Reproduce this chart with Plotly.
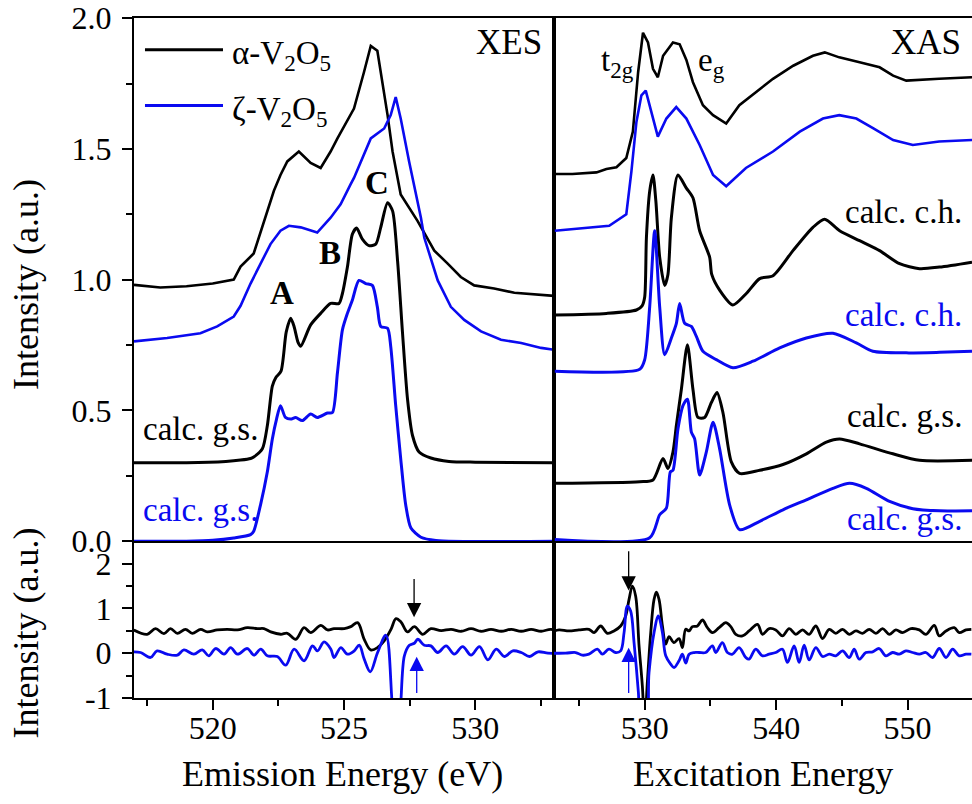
import plotly.graph_objects as go
from plotly.subplots import make_subplots

FONT = "Liberation Serif"
BLUE = "#0a0af0"
BLACK = "#000000"

# ---------------- XES (top left) ----------------
xes_alpha_E = [517.0, 518.0, 519.0, 520.0, 520.8, 521.06, 521.56, 521.95, 522.33, 522.58, 522.84,
               523.28, 523.73, 524.11, 524.49, 524.75, 525.38, 525.76, 526.02, 526.27, 526.47,
               526.66, 526.85, 527.16, 527.8, 528.18, 528.44, 528.95, 529.45, 529.96, 530.72,
               531.49, 532.25, 532.95, 533.0]
xes_alpha_I = [0.98, 0.97, 0.975, 0.985, 1.0, 1.05, 1.1, 1.225, 1.34, 1.4, 1.452,
               1.49, 1.446, 1.427, 1.49, 1.54, 1.654, 1.793, 1.894, 1.875, 1.755,
               1.629, 1.49, 1.326, 1.225, 1.16, 1.111, 1.061, 1.01, 0.978, 0.966,
               0.95, 0.943, 0.938, 0.938]

xes_zeta_E = [517.0, 518.26, 519.53, 520.17, 520.8, 521.06, 521.44, 521.82, 522.2, 522.58, 522.9,
              523.35, 523.98, 524.49, 524.87, 525.25, 525.38, 526.02, 526.53, 526.78, 526.97,
              527.16, 527.48, 527.93, 528.06, 528.57, 529.07, 529.58, 530.22, 530.98, 531.75,
              532.51, 533.0]
xes_zeta_I = [0.764, 0.777, 0.795, 0.821, 0.859, 0.9, 0.985, 1.061, 1.136, 1.187, 1.206,
              1.2, 1.18, 1.237, 1.288, 1.364, 1.389, 1.54, 1.578, 1.629, 1.698,
              1.616, 1.452, 1.237, 1.16, 0.997, 0.896, 0.846, 0.802, 0.77, 0.758,
              0.739, 0.732]

xes_gs_alpha_E = [517.0, 519.0, 520.5, 521.06, 521.44, 521.56, 521.89, 522.08, 522.27, 522.4,
                  522.6, 522.8, 522.97, 523.1, 523.25, 523.35, 523.73, 524.11, 524.49, 524.81,
                  524.94, 525.13, 525.32, 525.48, 525.7, 525.95, 526.21, 526.4, 526.66, 526.85,
                  527.04, 527.23, 527.42, 527.61, 527.86, 528.31, 529.0, 530.0, 533.0]
xes_gs_alpha_I = [0.3, 0.3, 0.305, 0.31, 0.316, 0.322, 0.353, 0.442, 0.593, 0.625,
                  0.65, 0.8, 0.852, 0.82, 0.76, 0.745, 0.827, 0.871, 0.909, 0.909,
                  0.947, 1.048, 1.174, 1.197, 1.155, 1.13, 1.136, 1.2, 1.294, 1.263,
                  1.073, 0.795, 0.543, 0.404, 0.341, 0.318, 0.305, 0.302, 0.3]

xes_gs_zeta_E = [517.0, 519.0, 520.0, 520.8, 521.44, 521.56, 521.82, 522.08, 522.27, 522.43,
                 522.58, 522.77, 522.97, 523.16, 523.41, 523.73, 523.98, 524.37, 524.56, 524.75,
                 524.94, 525.13, 525.32, 525.57, 525.83, 526.08, 526.27, 526.4, 526.66, 526.78,
                 526.97, 527.16, 527.35, 527.55, 527.93, 528.5, 533.0]
xes_gs_zeta_I = [0.0, 0.0, 0.003, 0.012, 0.025, 0.038, 0.139, 0.265, 0.391, 0.467,
                 0.518, 0.473, 0.467, 0.473, 0.461, 0.486, 0.473, 0.49, 0.492, 0.644,
                 0.808, 0.871, 0.922, 0.997, 0.985, 0.978, 0.896, 0.821, 0.814, 0.745,
                 0.518, 0.316, 0.139, 0.05, 0.015, 0.003, 0.0]

# ---------------- XAS (top right) ----------------
xas_alpha_E = [523.16, 524.5, 526.33, 527.09, 527.85, 528.6, 529.1, 529.5, 529.87, 530.25, 530.63,
               531.0, 531.4, 532.15, 532.66, 533.17, 533.67, 534.43, 535.2, 536.2, 537.2, 538.5,
               539.76, 541.3, 542.8, 543.7, 544.8, 546.35, 547.87, 548.9, 549.9, 552.4, 554.9]
xas_alpha_I = [1.404, 1.404, 1.41, 1.423, 1.43, 1.465, 1.566, 1.793, 1.944, 1.907, 1.806,
               1.774, 1.856, 1.907, 1.9, 1.84, 1.755, 1.667, 1.629, 1.597, 1.667, 1.717,
               1.768, 1.818, 1.856, 1.869, 1.85, 1.831, 1.812, 1.78, 1.761, 1.768, 1.774]

xas_zeta_E = [523.16, 525.8, 527.3, 528.6, 528.99, 529.37, 529.75, 530.08, 530.5, 531.0, 531.65,
              532.4, 533.17, 534.18, 535.2, 536.2, 537.7, 539.76, 541.8, 543.56, 544.8, 546.1,
              547.4, 548.9, 550.4, 552.4, 554.9]
xas_zeta_I = [1.187, 1.199, 1.206, 1.25, 1.414, 1.603, 1.705, 1.723, 1.641, 1.547, 1.616,
              1.66, 1.616, 1.515, 1.4, 1.357, 1.427, 1.49, 1.566, 1.616, 1.629, 1.616,
              1.578, 1.534, 1.515, 1.528, 1.534]

xas_ch_alpha_E = [523.16, 527.09, 529.37, 529.8, 530.0, 530.13, 530.38, 530.63, 530.85, 531.14,
                  531.52, 531.77, 532.03, 532.53, 533.17, 533.67, 534.18, 534.94, 535.1, 535.7,
                  536.71, 537.73, 538.75, 539.76, 541.28, 542.8, 543.69, 544.83, 546.35, 547.87,
                  549.39, 550.91, 552.43, 554.9]
xas_ch_alpha_I = [0.865, 0.871, 0.884, 0.9, 0.934, 1.16, 1.338, 1.4, 1.3, 1.086,
                  0.978, 1.02, 1.237, 1.4, 1.35, 1.313, 1.187, 1.086, 1.02, 0.96,
                  0.903, 0.947, 1.004, 1.015, 1.111, 1.2, 1.231, 1.187, 1.149, 1.111,
                  1.061, 1.042, 1.048, 1.067]

xas_ch_zeta_E = [523.16, 529.62, 530.0, 530.38, 530.76, 531.14, 531.52, 532.03, 532.41, 532.66,
                 533.04, 533.55, 533.93, 534.43, 535.45, 536.71, 538.24, 540.27, 542.3, 544.32,
                 546.1, 547.36, 549.9, 552.43, 554.9]
xas_ch_zeta_I = [0.65, 0.657, 0.694, 0.896, 1.187, 0.896, 0.713, 0.777, 0.833, 0.909,
                 0.833, 0.821, 0.783, 0.726, 0.694, 0.663, 0.688, 0.739, 0.777, 0.795,
                 0.758, 0.726, 0.72, 0.722, 0.726]

xas_gs_alpha_E = [523.16, 529.62, 530.63, 531.39, 531.77, 532.15, 532.41, 532.79, 533.25, 533.67,
                  534.05, 534.56, 535.07, 535.5, 535.95, 536.59, 537.22, 538.75, 540.52, 542.3,
                  543.82, 544.83, 546.35, 548.88, 550.91, 554.9]
xas_gs_alpha_I = [0.221, 0.227, 0.234, 0.316, 0.278, 0.341, 0.442, 0.581, 0.751, 0.581,
                  0.473, 0.473, 0.53, 0.568, 0.492, 0.303, 0.259, 0.271, 0.293, 0.334,
                  0.379, 0.391, 0.372, 0.334, 0.309, 0.309]

xas_gs_zeta_E = [523.16, 530.38, 531.14, 531.65, 531.95, 532.15, 532.53, 532.91, 533.25, 533.55,
                 533.8, 534.18, 534.69, 535.2, 535.7, 536.46, 537.22, 538.75, 540.52, 542.3,
                 544.32, 545.59, 546.86, 548.63, 550.4, 552.43, 554.9]
xas_gs_zeta_I = [0.006, 0.013, 0.101, 0.126, 0.265, 0.271, 0.429, 0.518, 0.543, 0.417,
                 0.391, 0.253, 0.341, 0.455, 0.353, 0.139, 0.044, 0.076, 0.12, 0.158,
                 0.202, 0.221, 0.202, 0.152, 0.124, 0.116, 0.116]

# ---------------- difference curves (bottom) ----------------
dxes_alpha_E = [516.99, 517.5, 517.82, 518.14, 518.39, 518.65, 518.96, 519.22, 519.54, 519.79,
                520.17, 520.55, 520.94, 521.32, 521.7, 521.95, 522.21, 522.59, 522.84, 523.16,
                523.48, 523.73, 524.12, 524.37, 524.62, 525.01, 525.26, 525.52, 525.77, 526.02,
                526.28, 526.53, 526.79, 526.98, 527.17, 527.42, 527.68, 528.0, 528.31, 528.7,
                529.08, 529.46, 529.84, 530.22, 530.6, 530.99, 531.37, 531.75, 532.13, 532.51,
                532.89, 533.15]
dxes_alpha_I = [0.519, 0.422, 0.548, 0.437, 0.548, 0.444, 0.533, 0.444, 0.533, 0.474,
                0.519, 0.533, 0.519, 0.57, 0.548, 0.548, 0.474, 0.422, 0.444, 0.311,
                0.57, 0.459, 0.622, 0.519, 0.548, 0.548, 0.593, 0.681, 0.311, 0.074,
                0.126, 0.274, 0.533, 0.77, 0.696, 0.474, 0.593, 0.422, 0.548, 0.504,
                0.533, 0.489, 0.548, 0.489, 0.533, 0.489, 0.533, 0.489, 0.533, 0.489,
                0.533, 0.459]

dxes_zeta_E = [516.99, 517.25, 517.63, 517.88, 518.26, 518.65, 518.9, 519.28, 519.6, 519.85,
               520.11, 520.43, 520.68, 520.94, 521.32, 521.57, 521.83, 522.08, 522.46, 522.78,
               523.1, 523.48, 523.8, 523.99, 524.24, 524.5, 524.62, 524.88, 525.13, 525.39,
               525.58, 525.77, 526.0, 526.28, 526.6, 526.95, 527.05, 527.3, 527.49, 527.68,
               527.81, 528.06, 528.31, 528.57, 528.89, 529.2, 529.52, 529.84, 530.16, 530.48,
               530.8, 531.11, 531.43, 531.75, 532.07, 532.39, 532.77, 533.15]
dxes_zeta_I = [0.03, 0.015, -0.096, 0.052, -0.022, -0.044, 0.074, -0.022, 0.074, -0.059,
               0.104, -0.022, 0.126, -0.022, 0.104, -0.044, 0.089, -0.059, -0.074, -0.267,
               0.089, -0.17, 0.163, 0.052, 0.252, 0.089, -0.096, 0.126, -0.022, 0.052,
               0.178, -0.133, -0.415, 0.015, 0.4, -1.6, -1.6, -0.059, 0.178, 0.222,
               0.311, 0.178, 0.163, 0.015, 0.163, -0.022, 0.148, -0.044, 0.148, -0.148,
               0.089, -0.074, 0.052, 0.015, -0.074, 0.03, 0.0, 0.0]

dxas_alpha_E = [523.1, 523.48, 524.24, 525.0, 525.76, 526.14, 526.65, 527.16, 527.66, 528.17,
                528.55, 528.81, 529.06, 529.31, 529.57, 529.82, 530.0, 530.2, 530.46, 530.71,
                530.89, 531.09, 531.35, 531.6, 531.85, 532.23, 532.61, 532.87, 533.12, 533.38,
                533.63, 534.01, 534.39, 534.77, 535.15, 535.66, 536.17, 536.55, 536.93, 537.44,
                537.94, 538.58, 538.96, 539.47, 539.97, 540.48, 540.99, 541.5, 542.01, 542.51,
                543.02, 543.53, 544.04, 544.54, 545.05, 545.56, 546.07, 546.57, 547.08, 547.59,
                548.1, 548.6, 549.11, 549.62, 550.25, 550.89, 551.4, 552.03, 552.41, 552.92,
                553.55, 553.93, 554.44, 554.85]
dxas_alpha_I = [0.49, 0.519, 0.496, 0.519, 0.533, 0.459, 0.607, 0.444, 0.496, 0.607,
                0.83, 1.2, 1.496, 1.274, 0.163, -0.726, -1.6, -0.652, 0.459, 1.2,
                1.363, 1.2, 0.607, 0.2, 0.37, 0.237, 0.326, 0.126, 0.533, 0.496,
                0.593, 0.607, 0.741, 0.57, 0.459, 0.57, 0.681, 0.593, 0.422, 0.385,
                0.496, 0.644, 0.422, 0.548, 0.519, 0.385, 0.548, 0.422, 0.519, 0.422,
                0.607, 0.326, 0.533, 0.444, 0.533, 0.422, 0.496, 0.444, 0.533, 0.444,
                0.548, 0.422, 0.519, 0.459, 0.548, 0.519, 0.422, 0.622, 0.385, 0.496,
                0.57, 0.459, 0.519, 0.533]

dxas_zeta_E = [522.72, 523.98, 524.75, 525.25, 525.76, 526.4, 526.78, 527.28, 527.79, 528.17,
               528.43, 528.68, 528.93, 529.19, 529.52, 529.7, 530.08, 530.33, 530.71, 531.04,
               531.35, 531.6, 531.98, 532.23, 532.61, 532.87, 533.12, 533.38, 533.76, 534.14,
               534.64, 535.15, 535.41, 535.91, 536.29, 536.68, 537.18, 537.69, 537.94, 538.45,
               538.96, 539.47, 539.97, 540.48, 540.86, 541.37, 541.75, 542.13, 542.51, 543.02,
               543.53, 544.04, 544.54, 545.05, 545.56, 545.94, 546.32, 546.83, 547.34, 547.84,
               548.35, 548.86, 549.37, 549.87, 550.38, 550.89, 551.4, 551.9, 552.41, 552.92,
               553.43, 553.93, 554.44, 554.85]
dxas_zeta_I = [0.0, 0.0, 0.015, -0.044, -0.022, 0.089, -0.022, 0.089, 0.015, 0.052,
               0.459, 1.052, 0.941, 0.237, -0.874, -1.6, -1.6, -0.43, 0.459, 0.83,
               0.459, -0.059, -0.244, -0.319, -0.17, -0.022, -0.222, -0.022, 0.015, 0.015,
               0.015, 0.163, 0.015, 0.237, 0.015, -0.022, 0.126, -0.096, -0.133, 0.089,
               -0.059, -0.022, 0.015, 0.089, -0.207, 0.163, -0.207, 0.178, -0.148, 0.126,
               -0.074, -0.022, -0.059, 0.052, -0.096, 0.089, -0.133, 0.015, 0.03, 0.104,
               -0.059, 0.015, -0.022, 0.052, 0.015, -0.022, 0.015, -0.096, 0.104, -0.096,
               0.089, -0.059, -0.022, -0.022]

# arrow markers in the difference panels: (energy, tail value, head value)
xes_arrow_alpha = (527.67, 1.69, 0.80)
xes_arrow_zeta = (527.77, -0.92, -0.08)
xas_arrow_alpha = (528.78, 2.31, 1.40)
xas_arrow_zeta = (528.78, -0.92, 0.12)

# tick labels
top_y_ticks = [0.0, 0.5, 1.0, 1.5, 2.0]
top_y_text = ["0.0", "0.5", "1.0", "1.5", "2.0"]
bot_y_ticks = [-1, 0, 1, 2]
bot_y_text = ["-1", "0", "1", "2"]

fig = make_subplots(rows=2, cols=2, shared_xaxes=True,
                    column_widths=[420, 418], row_heights=[527, 158],
                    horizontal_spacing=0, vertical_spacing=0)


def add(x, y, color, row, col, width=3.0, shape="spline", smoothing=0.7):
    fig.add_trace(go.Scatter(x=x, y=y, mode="lines",
                             line=dict(color=color, width=width, shape=shape, smoothing=smoothing),
                             showlegend=False, hoverinfo="skip"), row=row, col=col)


add(xes_alpha_E, xes_alpha_I, BLACK, 1, 1, 2.6, "linear")
add(xes_zeta_E, xes_zeta_I, BLUE, 1, 1, 2.6, "linear")
add(xes_gs_alpha_E, xes_gs_alpha_I, BLACK, 1, 1)
add(xes_gs_zeta_E, xes_gs_zeta_I, BLUE, 1, 1)

add(xas_alpha_E, xas_alpha_I, BLACK, 1, 2, 2.6, "linear")
add(xas_zeta_E, xas_zeta_I, BLUE, 1, 2, 2.6, "linear")
add(xas_ch_alpha_E, xas_ch_alpha_I, BLACK, 1, 2)
add(xas_ch_zeta_E, xas_ch_zeta_I, BLUE, 1, 2)
add(xas_gs_alpha_E, xas_gs_alpha_I, BLACK, 1, 2)
add(xas_gs_zeta_E, xas_gs_zeta_I, BLUE, 1, 2)

add(dxes_alpha_E, dxes_alpha_I, BLACK, 2, 1, 2.8, "spline", 1.0)
add(dxes_zeta_E, dxes_zeta_I, BLUE, 2, 1, 2.8, "spline", 1.0)
add(dxas_alpha_E, dxas_alpha_I, BLACK, 2, 2, 2.8, "spline", 1.0)
add(dxas_zeta_E, dxas_zeta_I, BLUE, 2, 2, 2.8, "spline", 1.0)

tickfont = dict(family=FONT, size=32, color="black")
axline = dict(showline=True, linecolor="black", linewidth=2, showgrid=False, zeroline=False)

# top row x axes (no ticks)
fig.update_xaxes(row=1, col=1, range=[517, 533], mirror=True, ticks="", showticklabels=False, **axline)
fig.update_xaxes(row=1, col=2, range=[523.1, 554.9], mirror=True, ticks="", showticklabels=False, **axline)
# bottom row x axes
fig.update_xaxes(row=2, col=1, range=[517, 533], tick0=520, dtick=5, ticks="outside", ticklen=10,
                 tickwidth=2, tickcolor="black", tickfont=tickfont, ticklabelstandoff=-9,
                 minor=dict(tick0=517.5, dtick=2.5, ticks="outside", ticklen=6, tickwidth=2,
                            tickcolor="black"), **axline)
fig.update_xaxes(row=2, col=2, range=[523.1, 554.9], tick0=530, dtick=10, ticks="outside", ticklen=10,
                 tickwidth=2, tickcolor="black", tickfont=tickfont, ticklabelstandoff=-9,
                 minor=dict(tick0=525, dtick=5, ticks="outside", ticklen=6, tickwidth=2,
                            tickcolor="black"), **axline)
# y axes
fig.update_yaxes(row=1, col=1, range=[0, 2.0005], tickvals=top_y_ticks, ticktext=top_y_text,
                 ticks="outside", ticklen=10, tickwidth=2, tickcolor="black", tickfont=tickfont,
                 mirror=True, ticklabelstandoff=4, ticklabeloverflow="allow",
                 minor=dict(tickvals=[0.25, 0.75, 1.25, 1.75], ticks="outside", ticklen=6,
                            tickwidth=2, tickcolor="black"),
                 **axline)
fig.update_yaxes(row=1, col=2, range=[0, 2.0005], ticks="", showticklabels=False, **axline)
fig.update_yaxes(row=2, col=1, range=[-1, 2.5], tickvals=bot_y_ticks, ticktext=bot_y_text,
                 ticks="outside", ticklen=10, tickwidth=2, tickcolor="black", tickfont=tickfont,
                 mirror=True, ticklabelstandoff=4, ticklabeloverflow="allow",
                 minor=dict(tickvals=[-0.5, 0.5, 1.5], ticks="outside", ticklen=6, tickwidth=2,
                            tickcolor="black"),
                 **axline)
fig.update_yaxes(row=2, col=2, range=[-1, 2.5], ticks="", showticklabels=False, **axline)

f33 = dict(family=FONT, size=33, color="black")
f33b = dict(family=FONT, size=33, color=BLUE)


def label(text, x, y, row, col, font, xanchor="left", yanchor="middle"):
    fig.add_annotation(text=text, x=x, y=y, row=row, col=col, showarrow=False,
                       font=font, xanchor=xanchor, yanchor=yanchor)


label("XES", 532.6, 1.905, 1, 1, dict(family=FONT, size=35, color="black"), "right")
label("XAS", 554.2, 1.905, 1, 2, dict(family=FONT, size=35, color="black"), "right")
label("t<sub>2g</sub>", 526.5, 1.83, 1, 2, f33)
label("e<sub>g</sub>", 533.9, 1.83, 1, 2, f33)
label("<b>A</b>", 522.63, 0.95, 1, 1, f33, "center")
label("<b>B</b>", 524.48, 1.10, 1, 1, f33, "center")
label("<b>C</b>", 526.26, 1.37, 1, 1, f33, "center")
label("calc. g.s.", 517.25, 0.43, 1, 1, f33)
label("calc. g.s.", 517.25, 0.12, 1, 1, f33b)
label("calc. c.h.", 554.3, 1.26, 1, 2, f33, "right")
label("calc. c.h.", 554.3, 0.865, 1, 2, f33b, "right")
label("calc. g.s.", 554.3, 0.48, 1, 2, f33, "right")
label("calc. g.s.", 554.3, 0.085, 1, 2, f33b, "right")

# legend (drawn manually)
fig.add_shape(type="line", xref="paper", yref="paper", x0=0.0131, x1=0.1062, y0=0.9533, y1=0.9533,
              line=dict(color=BLACK, width=3))
fig.add_shape(type="line", xref="paper", yref="paper", x0=0.0131, x1=0.1062, y0=0.8715, y1=0.8715,
              line=dict(color=BLUE, width=3))
fig.add_annotation(text="α-V<sub>2</sub>O<sub>5</sub>", xref="paper", yref="paper", x=0.1146, y=0.945,
                   showarrow=False, font=f33, xanchor="left", yanchor="middle")
fig.add_annotation(text="ζ-V<sub>2</sub>O<sub>5</sub>", xref="paper", yref="paper", x=0.1146, y=0.863,
                   showarrow=False, font=f33, xanchor="left", yanchor="middle")

# arrows
for (e, tail, head), color, xr, yr in [
        (xes_arrow_alpha, BLACK, "x3", "y3"), (xes_arrow_zeta, BLUE, "x3", "y3"),
        (xas_arrow_alpha, BLACK, "x4", "y4"), (xas_arrow_zeta, BLUE, "x4", "y4")]:
    fig.add_annotation(x=e, y=head, ax=e, ay=tail, xref=xr, yref=yr, axref=xr, ayref=yr,
                       text="", showarrow=True, arrowhead=2, arrowsize=2.2, arrowwidth=1.3,
                       arrowcolor=color)

# axis titles
tfont = dict(family=FONT, size=36, color="black")
fig.add_annotation(text="Emission Energy (eV)", xref="paper", yref="paper", x=0.2494, y=-0.1124,
                   showarrow=False, font=tfont, xanchor="center", yanchor="middle")
fig.add_annotation(text="Excitation Energy", xref="paper", yref="paper", x=0.75, y=-0.1124,
                   showarrow=False, font=tfont, xanchor="center", yanchor="middle")
fig.add_annotation(text="Intensity (a.u.)", xref="paper", yref="paper", x=-0.1289, y=0.6088,
                   showarrow=False, font=tfont, xanchor="center", yanchor="middle", textangle=-90)
fig.add_annotation(text="Intensity (a.u.)", xref="paper", yref="paper", x=-0.1289, y=0.0964,
                   showarrow=False, font=tfont, xanchor="center", yanchor="middle", textangle=-90)

fig.update_layout(width=972, height=804, margin=dict(l=134, r=0, t=13, b=106),
                  paper_bgcolor="white", plot_bgcolor="white", showlegend=False,
                  font=dict(family=FONT, color="black"))

fig.write_html("out.html", config={"displayModeBar": False},
               post_script="document.body.style.margin='0';document.body.style.overflow='hidden';")
